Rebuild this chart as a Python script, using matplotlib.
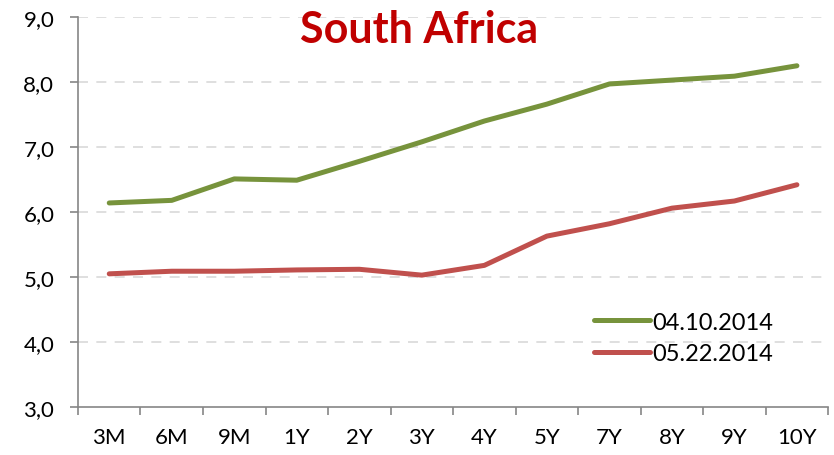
import matplotlib
matplotlib.use("Agg")
import matplotlib.pyplot as plt
import numpy as np
from matplotlib.ticker import FixedLocator, FuncFormatter

plt.rcParams['font.family'] = ['Lato', 'DejaVu Sans']

tenors = ["3M", "6M", "9M", "1Y", "2Y", "3Y", "4Y", "5Y", "7Y", "8Y", "9Y", "10Y"]
apr_10 = [6.14, 6.18, 6.51, 6.49, 6.78, 7.08, 7.40, 7.66, 7.97, 8.03, 8.09, 8.25]
may_22 = [5.05, 5.09, 5.09, 5.11, 5.12, 5.03, 5.18, 5.63, 5.82, 6.06, 6.17, 6.42]

fig = plt.figure(figsize=(8.34, 4.56), dpi=100)
ax = fig.add_axes([0.0935, 0.105, 0.8995, 0.8555])

x = np.arange(len(tenors))
ax.plot(x, apr_10, color="#77933C", lw=3.6, label="04.10.2014", solid_capstyle="round")
ax.plot(x, may_22, color="#C0504D", lw=3.6, label="05.22.2014", solid_capstyle="round")

ax.set_xlim(-0.5, len(tenors) - 0.5)
ax.set_ylim(3, 9)
ax.set_yticks(np.arange(3, 10, 1))
ax.yaxis.set_major_formatter(FuncFormatter(lambda v, p: f"{v:.1f}".replace(".", ",")))
ax.set_xticks(x)
ax.set_xticklabels(tenors)
ax.xaxis.set_minor_locator(FixedLocator(np.arange(-0.5, len(tenors), 1)))
ax.tick_params(axis="x", which="major", length=0, labelsize=16, pad=14)
ax.tick_params(axis="x", which="minor", length=6, color="#868686", width=1.2)
ax.tick_params(axis="y", length=6, color="#868686", width=1.2, labelsize=16, pad=11)

for v in range(4, 10):
    ax.axhline(v, color="#D9D9D9", lw=1.2, ls=(0, (6, 5)), zorder=0)

for s in ["top", "right"]:
    ax.spines[s].set_visible(False)
for s in ["left", "bottom"]:
    ax.spines[s].set_color("#868686")
    ax.spines[s].set_linewidth(1.2)

fig.text(0.502, 0.935, "South Africa", color="#C00000", fontsize=31, fontweight="bold",
         ha="center", va="center")

ax.legend(loc="lower left", bbox_to_anchor=(0.688, 0.11), frameon=False, fontsize=17,
          handlelength=2.35, handletextpad=0.1, labelspacing=0.45,
          borderpad=0, borderaxespad=0)

fig.savefig("out.png", dpi=100)
